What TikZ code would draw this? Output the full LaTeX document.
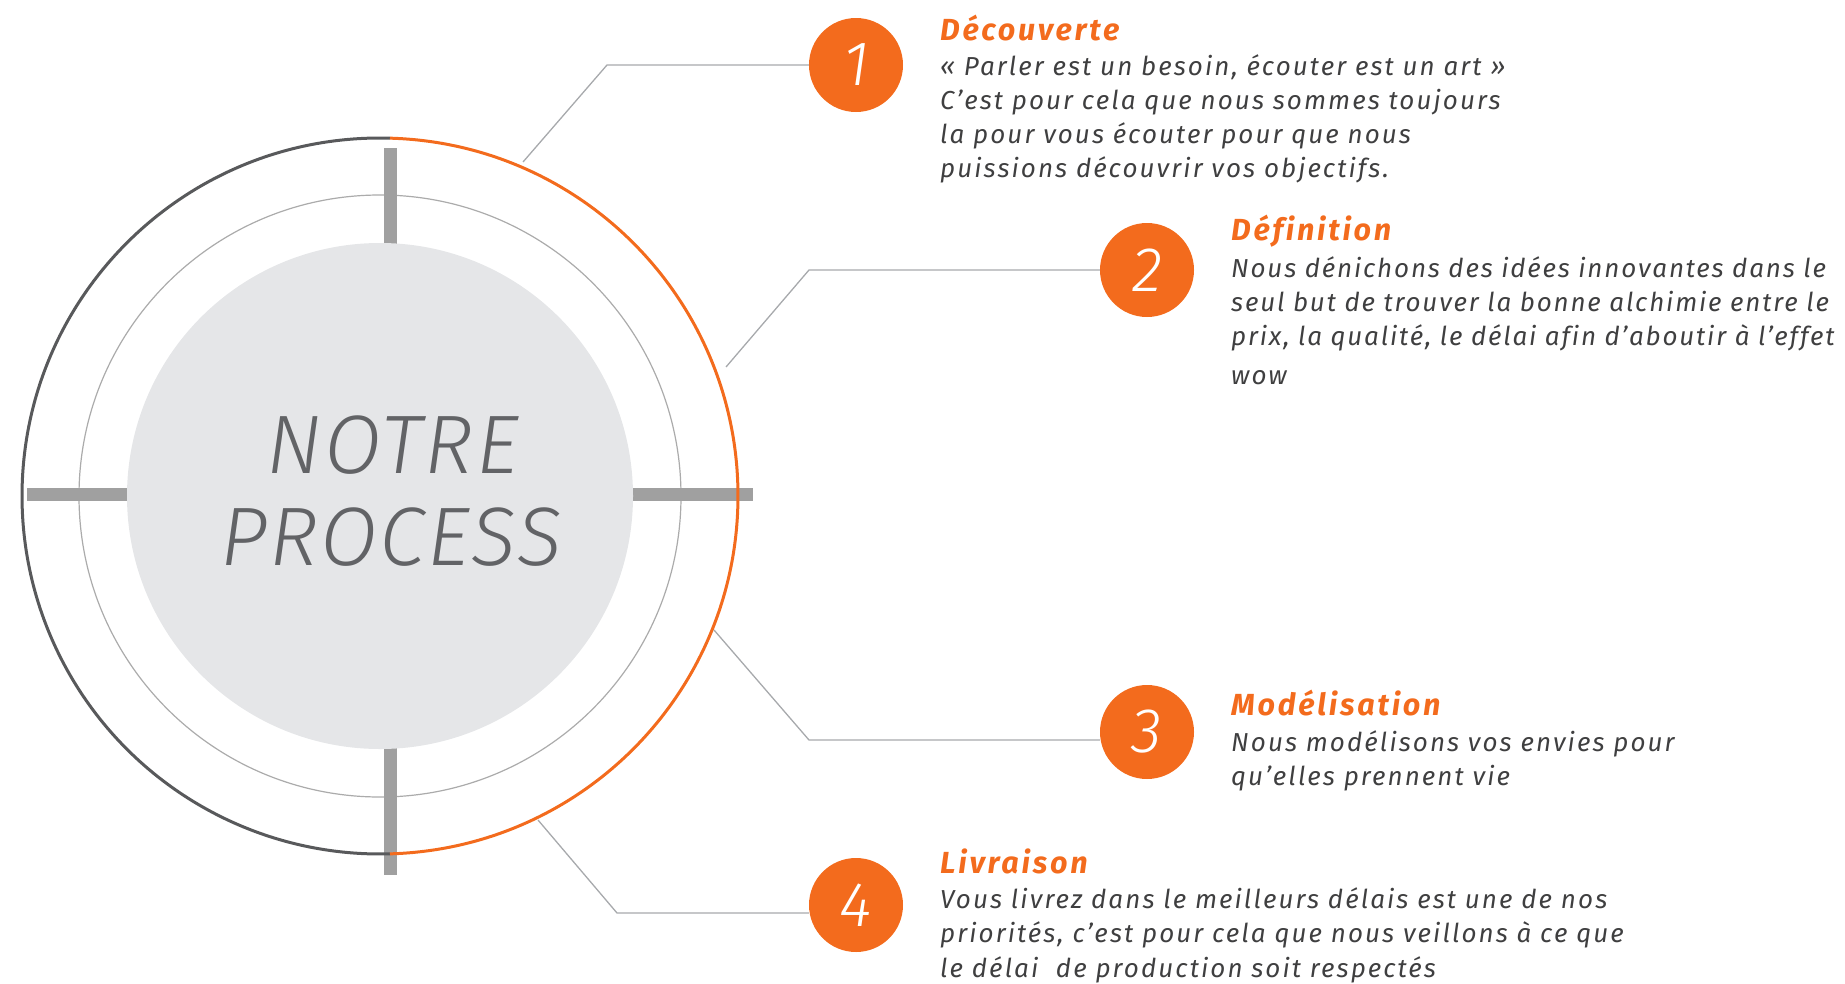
\documentclass[tikz,border=0pt]{standalone}
\usepackage{fontspec}
\setmainfont{Fira Sans}
\newfontfamily\bodyfont{Fira Sans}[LetterSpace=8, Ligatures=NoCommon]
\newfontfamily\bodyfontnarrow{Fira Sans}[LetterSpace=7, Ligatures=NoCommon]
\newfontfamily\headfont{Fira Sans}[LetterSpace=9, Ligatures=NoCommon]
\newfontfamily\digitfont{Fira Sans Light}[LetterSpace=0]
\newfontfamily\titlefont{Fira Sans Light}[LetterSpace=3]
\definecolor{orng}{HTML}{F36B1D}
\definecolor{darkring}{HTML}{58595B}
\definecolor{bargray}{HTML}{A0A0A0}
\definecolor{fillgray}{HTML}{E5E6E8}
\definecolor{thingray}{HTML}{ABABAB}
\definecolor{txt}{HTML}{3F3F40}
\definecolor{titlegray}{HTML}{626366}
\definecolor{linkgray}{HTML}{A7A9AC}
\tikzset{
  numcirc/.style={circle, fill=orng, minimum size=94pt, inner sep=0pt, text=white,
    font=\digitfont\itshape\fontsize{63}{63}\selectfont},
  link/.style={draw=linkgray, line width=1.3pt},
  headtxt/.style={anchor=base west, inner sep=0pt, text=orng,
    font=\headfont\bfseries\itshape\fontsize{30.5}{30.5}\selectfont},
  bodytxt/.style={anchor=base west, inner sep=0pt, text=txt, align=left,
    font=\bodyfont\itshape\fontsize{26}{34.1}\selectfont},
  narrowtxt/.style={bodytxt, font=\bodyfontnarrow\itshape\fontsize{26}{34.1}\selectfont},
  titletxt/.style={anchor=base, inner sep=0pt, text=titlegray,
    font=\titlefont\itshape\fontsize{83}{83}\selectfont},
  bar/.style={draw=bargray, line width=13pt},
  ring/.style={line width=3pt}
}
\begin{document}
\begin{tikzpicture}[x=1pt,y=-1pt]
\useasboundingbox (0,0) rectangle (1845,983);
\coordinate (ctr) at (380,496);
% thin inner ring
\draw[thingray, line width=1.2pt] (ctr) circle[radius=301pt];
% cross bars
\draw[bar] (390.5,148) -- (390.5,260);
\draw[bar] (390.5,735) -- (390.5,875);
\draw[bar] (27,494.3) -- (140,494.3);
\draw[bar] (620,494.3) -- (753,494.3);
% grey disc
\fill[fillgray] (ctr) circle[radius=253pt];
% outer ring
\draw[ring, darkring] ([shift={(88.4:358pt)}]ctr) arc[start angle=88.4, end angle=271.6, radius=358pt];
\draw[ring, orng] ([shift={(88.4:358pt)}]ctr) arc[start angle=88.4, end angle=-88.4, radius=358pt];
% title
\node[titletxt] (t1) at (392.5,473) {NOTRE};
\node[titletxt] (t2) at (391,565) {PROCESS};
% number circles
\node[numcirc] (n1) at (856,65) {1};
\node[numcirc] (n2) at (1147,270) {2};
\node[numcirc] (n3) at (1147,732) {3};
\node[numcirc] (n4) at (856,905) {4};
% connectors
\coordinate (a1) at (523,162); \coordinate (b1) at (607,65);
\coordinate (a2) at (726,367); \coordinate (b2) at (809,270);
\coordinate (a3) at (714,630); \coordinate (b3) at (809,740);
\coordinate (a4) at (538,820); \coordinate (b4) at (617,913);
\draw[link] (a1) -- (b1) -- (n1.west |- b1);
\draw[link] (a2) -- (b2) -- (n2.west |- b2);
\draw[link] (a3) -- (b3) -- (n3.west |- b3);
\draw[link] (a4) -- (b4) -- (n4.west |- b4);
% texts (body nodes anchored at the baseline of their last line)
\node[headtxt] (h1) at (940,40) {Découverte};
\node[bodytxt] (d1) at (940,177.5) {« Parler est un besoin, écouter est un art »\\C’est pour cela que nous sommes toujours\\la pour vous écouter pour que nous\\puissions découvrir vos objectifs.};
\node[headtxt] (h2) at (1231,240) {Définition};
\node[narrowtxt] (d2) at (1231,384.4) {Nous dénichons des idées innovantes dans le\\seul but de trouver la bonne alchimie entre le\\prix, la qualité, le délai afin d’aboutir à l’effet\\[5pt]wow};
\node[headtxt] (h3) at (1231,715) {Modélisation};
\node[bodytxt] (d3) at (1231,785.4) {Nous modélisons vos envies pour\\qu’elles prennent vie};
\node[headtxt] (h4) at (940,873) {Livraison};
\node[bodytxt] (d4) at (940,977) {Vous livrez dans le meilleurs délais est une de nos\\priorités, c’est pour cela que nous veillons à ce que\\le délai \ de production soit respectés};
\end{tikzpicture}
\end{document}
